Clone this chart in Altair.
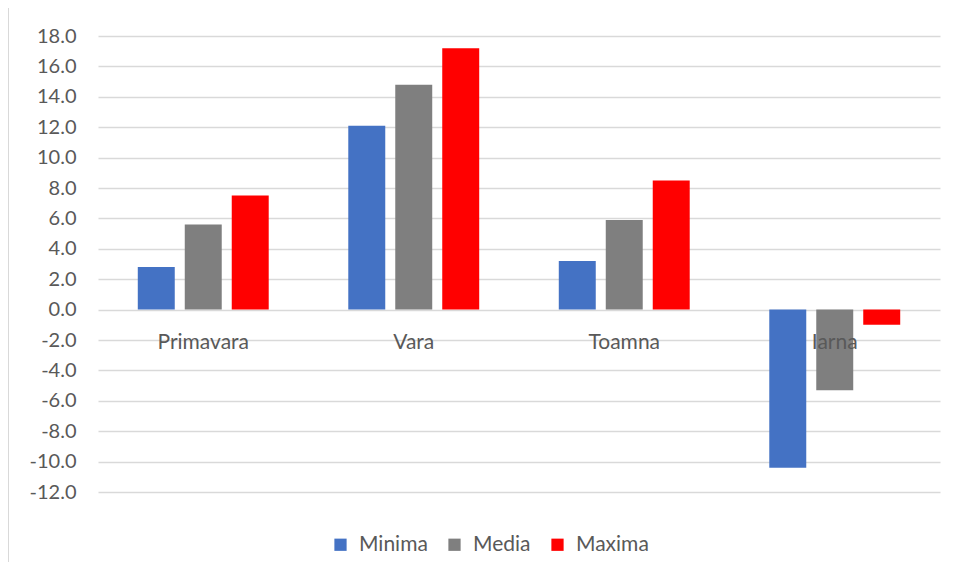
import altair as alt
import pandas as pd

seasons = ["Primavara", "Vara", "Toamna", "Iarna"]
series = ["Minima", "Media", "Maxima"]
minima = [2.8, 12.1, 3.2, -10.4]
media = [5.6, 14.8, 5.9, -5.3]
maxima = [7.5, 17.2, 8.5, -1.0]
colors = ["#4472C4", "#7F7F7F", "#FF0000"]
y_ticks = list(range(-12, 19, 2))

rows = []
for i, s in enumerate(seasons):
    for name, vals in zip(series, [minima, media, maxima]):
        rows.append({"season": s, "series": name, "value": vals[i]})
df = pd.DataFrame(rows)
cats = pd.DataFrame({"season": seasons, "value": [0] * len(seasons)})

FONT = "Lato"
LABEL = "#595959"
FS = 20

xscale = alt.Scale(domain=seasons, paddingInner=0.378, paddingOuter=0.189)
yscale = alt.Scale(domain=[-12, 18], nice=False)
yaxis = alt.Axis(values=y_ticks, title=None, domain=False, ticks=False,
                 labelOverlap=False, labelFlush=False,
                 labelExpr="datum.value < 0 ? '-' + format(abs(datum.value), '.1f') : format(datum.value, '.1f')",
                 labelPadding=22, gridColor="#d9d9d9", gridWidth=1.5,
                 labelFont=FONT, labelFontSize=FS, labelColor=LABEL)

border = alt.Chart(cats).mark_rect(fill=None, stroke="#d9d9d9", strokeWidth=1).encode(
    x=alt.value(-89.5), x2=alt.value(1000), y=alt.value(-28.5), y2=alt.value(700)
)

bars = alt.Chart(df).mark_bar().encode(
    x=alt.X("season:N", scale=xscale, axis=None, sort=seasons),
    xOffset=alt.XOffset("series:N", sort=series,
                        scale=alt.Scale(paddingInner=0.213, paddingOuter=0)),
    y=alt.Y("value:Q", scale=yscale, axis=yaxis),
    color=alt.Color("series:N", sort=series,
                    scale=alt.Scale(domain=series, range=colors),
                    legend=alt.Legend(title=None, orient="none", direction="horizontal",
                                      legendX=232, legendY=498, symbolType="square",
                                      symbolSize=150, symbolStrokeWidth=0, columnPadding=16,
                                      labelFont=FONT, labelFontSize=21, labelColor=LABEL,
                                      labelOffset=8)),
)

labels = alt.Chart(cats).mark_text(font=FONT, fontSize=21, color=LABEL, baseline="middle", dy=33).encode(
    x=alt.X("season:N", scale=xscale, axis=None, sort=seasons),
    y=alt.Y("value:Q", scale=yscale, axis=yaxis),
    text="season:N",
)

chart = alt.layer(border, bars, labels).properties(
    width=842, height=456,
    autosize=alt.AutoSizeParams(type="none"),
    padding={"left": 90, "top": 28, "right": 8, "bottom": 70},
).configure_view(stroke=None)

chart.save("out.html", embed_options={"renderer": "svg", "actions": False})
